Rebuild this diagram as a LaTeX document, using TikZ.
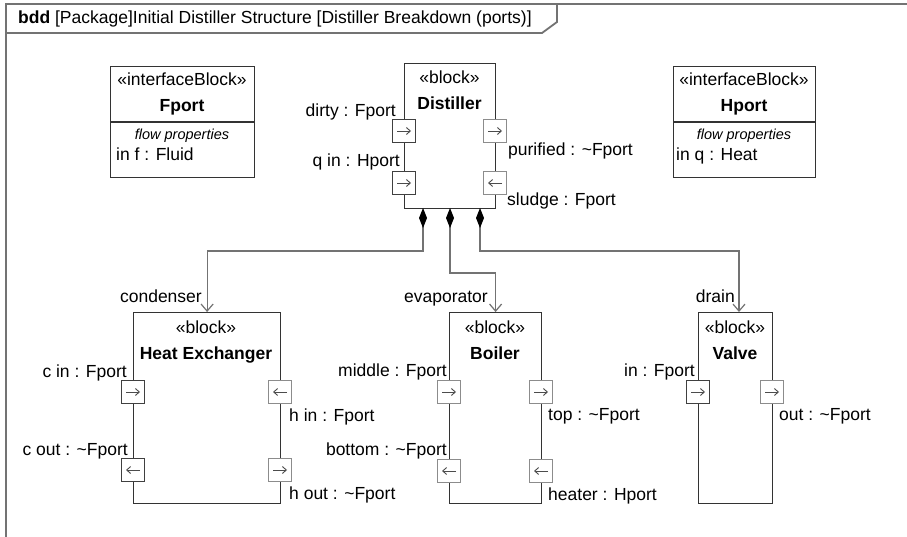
\documentclass[tikz,border=0pt]{standalone}
\usepackage{fontspec}
\setmainfont{Liberation Sans}
\usetikzlibrary{arrows.meta,calc}
\begin{document}
\begin{tikzpicture}[x=1pt,y=-1pt,
  blk/.style={draw=black!80, line width=1.2pt, fill=white, inner sep=0pt},
  prt/.style={draw=black!75, line width=1.1pt, fill=white, minimum size=23pt, inner sep=0pt},
  prtg/.style={prt, draw=black!45},
  txt/.style={inner sep=0pt, font=\fontsize{17.5}{20}\selectfont},
  small/.style={inner sep=0pt, font=\fontsize{14.5}{17}\selectfont\itshape},
  frame/.style={draw=black!55, line width=1.8pt},
  conn/.style={draw=black!55, line width=1.2pt},
  comp/.style={conn, {Diamond[length=20pt,width=8pt,color=black]}-{Straight Barb[length=7pt,width=12pt]}},
  parr/.style={-{Straight Barb[length=4pt,width=7pt]}, draw=black!70, line width=0.9pt}]
\useasboundingbox (0,0) rectangle (907,537);
\fill[white] (0,0) rectangle (907,537);

% frame
\draw[frame] (907,4) -- (6,4) -- (6,537);
\draw[frame] (6,33) -- (542,33) -- (557,22) -- (557,4);
\node[txt, anchor=base west] (title) at (18,24) {\textbf{bdd} [Package]Initial Distiller Structure [Distiller Breakdown (ports)]};

% Fport interface block
\node[blk, anchor=north west, minimum width=144pt, minimum height=111pt] (fport) at (110,66) {};
\draw[blk] ($(fport.north west)+(0,56)$) -- ($(fport.north east)+(0,56)$);
\node[txt, anchor=base] (fps) at (182,86) {«interfaceBlock»};
\node[txt, anchor=base] (fpn) at (182,112) {\textbf{Fport}};
\node[small, anchor=base] (fpc) at (182,140) {flow properties};
\node[txt, anchor=base west] (fpp) at (116,161) {in f : Fluid};

% Hport interface block
\node[blk, anchor=north west, minimum width=142pt, minimum height=111pt] (hport) at (673,66) {};
\draw[blk] ($(hport.north west)+(0,56)$) -- ($(hport.north east)+(0,56)$);
\node[txt, anchor=base] (hps) at (744,86) {«interfaceBlock»};
\node[txt, anchor=base] (hpn) at (744,112) {\textbf{Hport}};
\node[small, anchor=base] (hpc) at (744,140) {flow properties};
\node[txt, anchor=base west] (hpp) at (676,161) {in q : Heat};

% Distiller
\node[blk, anchor=north west, minimum width=91pt, minimum height=145pt] (dist) at (404,63) {};
\node[txt, anchor=base] (dsts) at (449.5,84) {«block»};
\node[txt, anchor=base] (dstn) at (449.5,110) {\textbf{Distiller}};
\node[prt] (d1) at (404,131) {};
\node[prt] (d2) at (404,183) {};
\node[prtg] (d3) at (495,131) {};
\node[prtg] (d4) at (495,183) {};
\draw[parr] ($(d1)+(-7,0)$) -- ($(d1)+(7,0)$);
\draw[parr] ($(d2)+(-7,0)$) -- ($(d2)+(7,0)$);
\draw[parr] ($(d3)+(-7,0)$) -- ($(d3)+(7,0)$);
\draw[parr] ($(d4)+(7,0)$) -- ($(d4)+(-7,0)$);
\node[txt, anchor=base east] (ld1) at (396,117) {dirty : Fport};
\node[txt, anchor=base east] (ld2) at (400,167) {q in : Hport};
\node[txt, anchor=base west] (ld3) at (508,156) {purified : \textasciitilde Fport};
\node[txt, anchor=base west] (ld4) at (507,206) {sludge : Fport};

% Heat Exchanger
\node[blk, anchor=north west, minimum width=147pt, minimum height=191pt] (he) at (133,312) {};
\node[txt, anchor=base] (hes) at (206,333) {«block»};
\node[txt, anchor=base] (hen) at (206,359) {\textbf{Heat Exchanger}};
\node[prt] (h1) at (133,392) {};
\node[prt] (h2) at (133,470) {};
\node[prtg] (h3) at (280,392) {};
\node[prtg] (h4) at (280,470) {};
\draw[parr] ($(h1)+(-7,0)$) -- ($(h1)+(7,0)$);
\draw[parr] ($(h2)+(7,0)$) -- ($(h2)+(-7,0)$);
\draw[parr] ($(h3)+(7,0)$) -- ($(h3)+(-7,0)$);
\draw[parr] ($(h4)+(-7,0)$) -- ($(h4)+(7,0)$);
\node[txt, anchor=base east] (lh1) at (127,377) {c in : Fport};
\node[txt, anchor=base east] (lh2) at (128,455) {c out : \textasciitilde Fport};
\node[txt, anchor=base west] (lh3) at (289,421) {h in : Fport};
\node[txt, anchor=base west] (lh4) at (289,499) {h out : \textasciitilde Fport};

% Boiler
\node[blk, anchor=north west, minimum width=92pt, minimum height=191pt] (boil) at (449,312) {};
\node[txt, anchor=base] (bos) at (495,333) {«block»};
\node[txt, anchor=base] (bon) at (495,359) {\textbf{Boiler}};
\node[prtg] (b1) at (449,392) {};
\node[prtg] (b2) at (449,471) {};
\node[prtg] (b3) at (541,392) {};
\node[prtg] (b4) at (541,471) {};
\draw[parr] ($(b1)+(-7,0)$) -- ($(b1)+(7,0)$);
\draw[parr] ($(b2)+(7,0)$) -- ($(b2)+(-7,0)$);
\draw[parr] ($(b3)+(-7,0)$) -- ($(b3)+(7,0)$);
\draw[parr] ($(b4)+(7,0)$) -- ($(b4)+(-7,0)$);
\node[txt, anchor=base east] (lb1) at (447,376) {middle : Fport};
\node[txt, anchor=base east] (lb2) at (447,455) {bottom : \textasciitilde Fport};
\node[txt, anchor=base west] (lb3) at (548,420) {top : \textasciitilde Fport};
\node[txt, anchor=base west] (lb4) at (548,500) {heater : Hport};

% Valve
\node[blk, anchor=north west, minimum width=74pt, minimum height=191pt] (valve) at (698,312) {};
\node[txt, anchor=base] (vas) at (735,333) {«block»};
\node[txt, anchor=base] (van) at (735,359) {\textbf{Valve}};
\node[prt] (v1) at (698,392) {};
\node[prtg] (v2) at (772,392) {};
\draw[parr] ($(v1)+(-7,0)$) -- ($(v1)+(7,0)$);
\draw[parr] ($(v2)+(-7,0)$) -- ($(v2)+(7,0)$);
\node[txt, anchor=base east] (lv1) at (695,376) {in : Fport};
\node[txt, anchor=base west] (lv2) at (779,420) {out : \textasciitilde Fport};

% composition connectors
\coordinate (s1) at (423,208);
\coordinate (s2) at (450,208);
\coordinate (s3) at (480,208);
\coordinate (vtop) at (739,312);
\draw[comp] (s1) -- ++(0,43) -| (he.north);
\draw[comp] (s2) -- ++(0,65) -| (boil.north);
\draw[comp] (s3) -- ++(0,43) -| (vtop);
\node[txt, anchor=base east] (rc) at (202,302) {condenser};
\node[txt, anchor=base east] (re) at (488,302) {evaporator};
\node[txt, anchor=base east] (rd) at (735,302) {drain};
\end{tikzpicture}
\end{document}
